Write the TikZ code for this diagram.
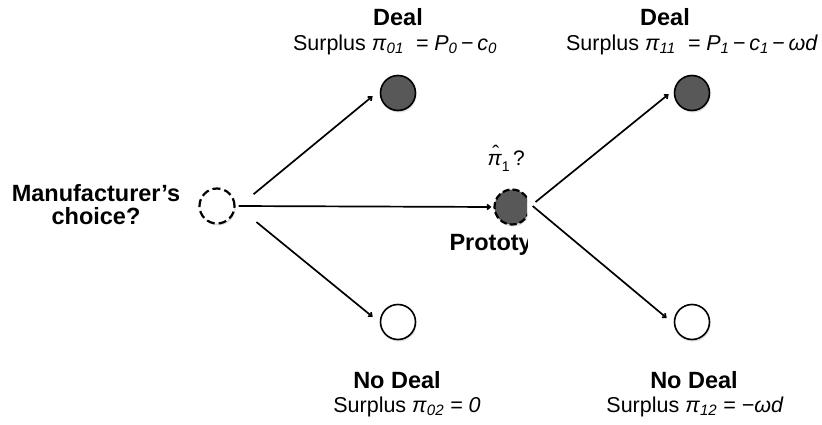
\documentclass[tikz,border=0pt]{standalone}
\usepackage{fontspec}
\setmainfont{Liberation Sans}
\usetikzlibrary{arrows.meta,shadows}
\definecolor{darkfill}{RGB}{88,88,88}
\newcommand{\subi}[1]{\textsubscript{\itshape #1}}
\newcommand{\pihat}{\ooalign{\textit{π}\cr\hidewidth\raisebox{0.22em}{\kern0.1em ˆ}\hidewidth\cr}}
\begin{document}
\begin{tikzpicture}[x=1pt,y=-1pt,
  state/.style={circle,draw=black,line width=1.6pt,minimum size=35pt,inner sep=0pt,
    drop shadow={opacity=0.25,shadow xshift=1pt,shadow yshift=-2pt}},
  dealnode/.style={state,fill=darkfill},
  nodealnode/.style={state,fill=white},
  choicenode/.style={state,fill=white,dash pattern=on 8pt off 4pt,line width=2.2pt},
  protonode/.style={state,fill=darkfill,dash pattern=on 7pt off 3pt,line width=2.2pt},
  conn/.style={line width=1.7pt,-{Straight Barb[length=3pt,width=5pt]}},
  head/.style={font=\fontsize{23.5}{26}\selectfont\bfseries,align=center},
  surp/.style={font=\fontsize{21.5}{24}\selectfont}]
\useasboundingbox (0,0) rectangle (822,425);
\fill[white] (0,0) rectangle (822,425);

\node[choicenode] (L) at (217,206) {};
\node[dealnode] (MT) at (398,93) {};
\node[nodealnode] (MB) at (398,322) {};
\node[dealnode] (RT) at (692,93) {};
\node[nodealnode] (RB) at (692,322) {};
\begin{scope}
  \clip (400,120) rectangle (527,270);
  \node[protonode] (P) at (512,207) {};
  \node[head,anchor=west] (ptxt) at (446,245) {Prototy};
  \node[font=\fontsize{21}{24}\selectfont,anchor=west] (phat) at (484,161) {\pihat\raisebox{-0.5ex}{\fontsize{14}{15}\selectfont 1}\,?};
\end{scope}

\node[head] (lab) at (96,205) {Manufacturer’s\\[-3pt]choice?};

\node[head] (d1) at (398,17) {Deal};
\node[surp] (s1) at (395,45) {Surplus \textit{π}\subi{01}\ \ \textit{= P}\subi{0}\,−\,\textit{c}\subi{0}};
\node[head] (d2) at (665,17) {Deal};
\node[surp] (s2) at (692,45) {Surplus \textit{π}\subi{11}\ \ \textit{= P}\subi{1}\,−\,\textit{c}\subi{1}\,−\,\textit{ωd}};
\node[head] (n1) at (397,380) {No Deal};
\node[surp] (s3) at (407,407) {Surplus \textit{π}\subi{02} \textit{= 0}};
\node[head] (n2) at (694,380) {No Deal};
\node[surp] (s4) at (695,407) {Surplus \textit{π}\subi{12} \textit{= −ωd}};

\draw[conn,shorten <=23.6pt,shorten >=9.4pt] (L.-10) -- (MT.171);
\draw[conn,shorten <=3pt,shorten >=2pt] (L.east) -- (P.west);
\draw[conn,shorten <=26.9pt,shorten >=9pt] (L.3) -- (MB.182);
\draw[conn,shorten <=6.4pt,shorten >=6.8pt] (P.3) -- (RT.170);
\draw[conn,shorten <=3pt,shorten >=9.2pt] (P.9) -- (RB.186);
\end{tikzpicture}
\end{document}
